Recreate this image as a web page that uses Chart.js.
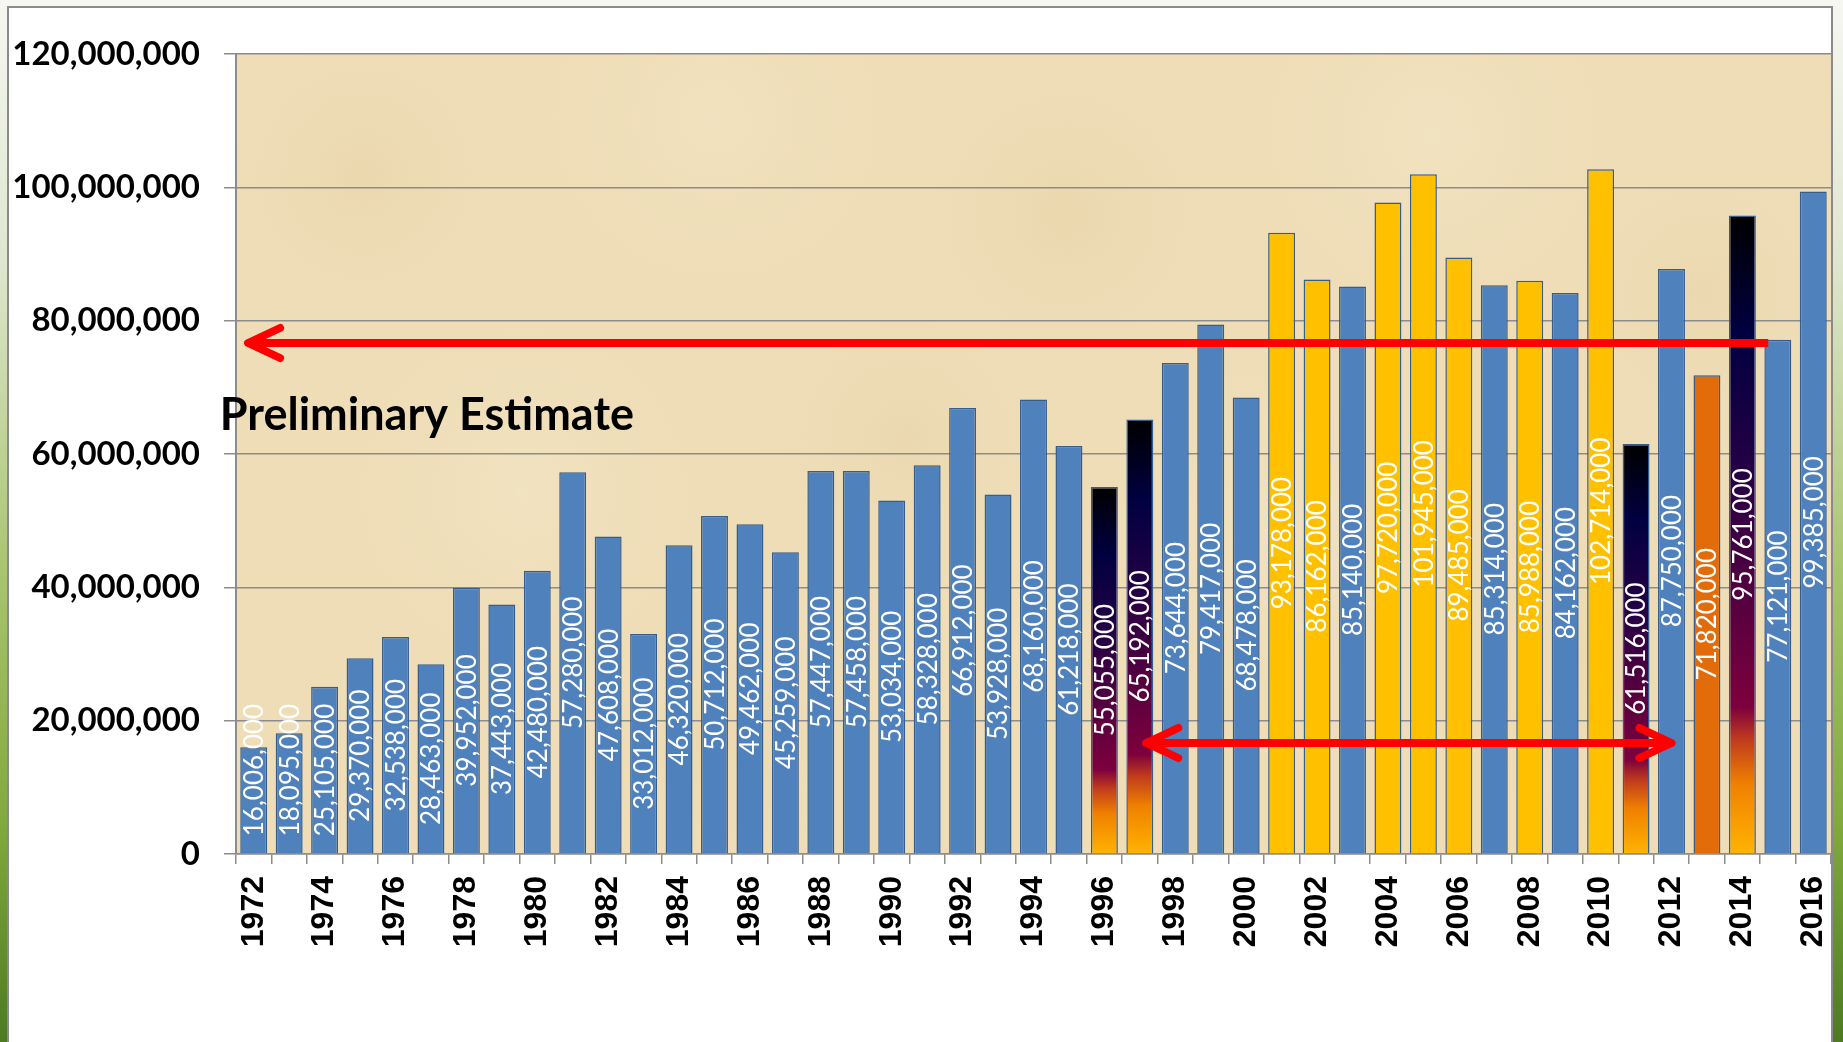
<!DOCTYPE html>
<html>
<head>
<meta charset="utf-8">
<script src="https://cdn.jsdelivr.net/npm/chart.js@4.4.1/dist/chart.umd.min.js"></script>
<style>
  html, body { margin: 0; padding: 0; background: #ffffff; }
  #wrap { width: 1843px; height: 1042px; position: relative; }
</style>
</head>
<body>
<div id="wrap"><canvas id="c" width="1843" height="1042"></canvas></div>
<script>
// ---------------- data ----------------
const years = [1972,1973,1974,1975,1976,1977,1978,1979,1980,1981,1982,1983,1984,1985,1986,1987,1988,1989,1990,1991,1992,1993,1994,1995,1996,1997,1998,1999,2000,2001,2002,2003,2004,2005,2006,2007,2008,2009,2010,2011,2012,2013,2014,2015,2016];
const values = [16006000,18095000,25105000,29370000,32538000,28463000,39952000,37443000,42480000,57280000,47608000,33012000,46320000,50712000,49462000,45259000,57447000,57458000,53034000,58328000,66912000,53928000,68160000,61218000,55055000,65192000,73644000,79417000,68478000,93178000,86162000,85140000,97720000,101945000,89485000,85314000,85988000,84162000,102714000,61516000,87750000,71820000,95761000,77121000,99385000];
const yellowYears = [2001,2002,2004,2005,2006,2008,2010];
const gradientYears = [1996,1997,2011,2014];
const orangeYears = [2013];
const yTickValues = [0,20000000,40000000,60000000,80000000,100000000,120000000];
const annotationText = 'Preliminary Estimate';
// arrows: positions in category-index units (x) and data units (y)
const arrowLongX = [-0.16, 42.73];
const arrowLongY = 76650000;
const arrowShortX = [25.18, 40.0];
const arrowShortY = 16650000;
const textAnchorX = -0.9;
const textAnchorY = 63600000;

// ---------------- styles ----------------
const BLUE = '#4F81BD', YELLOW = '#FFC000', ORANGE = '#E36C0A', BORDER = '#385D8A';
const GRID = '#8C8C8C';
const fmt = v => v.toLocaleString('en-US');

function barFill(ctx) {
  const i = ctx.dataIndex;
  const yr = years[i];
  if (yellowYears.includes(yr)) return YELLOW;
  if (orangeYears.includes(yr)) return ORANGE;
  if (gradientYears.includes(yr)) {
    const chart = ctx.chart;
    if (!chart.chartArea || !chart.scales.y) return '#200040';
    const top = chart.scales.y.getPixelForValue(values[i]);
    const base = chart.scales.y.getPixelForValue(0);
    const g = chart.ctx.createLinearGradient(0, top, 0, base);
    g.addColorStop(0, '#000000');
    g.addColorStop(0.18, '#000040');
    g.addColorStop(0.40, '#250045');
    g.addColorStop(0.60, '#550040');
    g.addColorStop(0.77, '#7D003D');
    g.addColorStop(0.82, '#C03A1E');
    g.addColorStop(0.89, '#F08000');
    g.addColorStop(1.0, '#FFB400');
    return g;
  }
  return BLUE;
}

// soft mottling of the parchment background (fixed, hand-placed patches)
const parchmentPatches = [
  [0.08, 0.15, 0.10, 'rgba(230,205,160,0.35)'], [0.30, 0.08, 0.12, 'rgba(245,232,200,0.45)'],
  [0.52, 0.20, 0.11, 'rgba(228,204,158,0.35)'], [0.75, 0.10, 0.12, 'rgba(246,234,204,0.45)'],
  [0.92, 0.30, 0.10, 'rgba(230,206,162,0.35)'], [0.18, 0.55, 0.12, 'rgba(246,234,204,0.45)'],
  [0.42, 0.48, 0.10, 'rgba(228,204,160,0.30)'], [0.65, 0.60, 0.12, 'rgba(246,234,204,0.40)'],
  [0.85, 0.75, 0.11, 'rgba(230,206,162,0.30)'], [0.30, 0.85, 0.10, 'rgba(230,206,162,0.30)']
];

const framePlugin = {
  id: 'frame',
  beforeDraw(chart) {
    const c = chart.ctx;
    const W = chart.width, H = chart.height;
    c.save();
    const bg = c.createLinearGradient(0, 0, 0, H);
    bg.addColorStop(0, '#f6f7f2');
    bg.addColorStop(0.25, '#dfe6cf');
    bg.addColorStop(0.55, '#a9c46e');
    bg.addColorStop(0.8, '#7fa83c');
    bg.addColorStop(1, '#4d7a22');
    c.fillStyle = bg;
    c.fillRect(0, 0, W, H);
    const ca = chart.chartArea;
    c.fillStyle = '#ffffff';
    c.fillRect(8, 7, ca.right - 8 + 1, H);
    c.strokeStyle = '#8a8a8a';
    c.lineWidth = 2;
    c.strokeRect(8, 7, ca.right - 8 + 1, H + 10);
    // plot background
    const pw = ca.right - ca.left, ph = ca.bottom - ca.top;
    c.fillStyle = '#EEDDB7';
    c.fillRect(ca.left, ca.top, pw, ph);
    c.beginPath(); c.rect(ca.left, ca.top, pw, ph); c.clip();
    parchmentPatches.forEach(([fx, fy, fr, col]) => {
      const cx = ca.left + fx * pw, cy = ca.top + fy * ph, r = fr * pw;
      const rg = c.createRadialGradient(cx, cy, 0, cx, cy, r);
      rg.addColorStop(0, col);
      rg.addColorStop(1, 'rgba(238,221,183,0)');
      c.fillStyle = rg;
      c.fillRect(cx - r, cy - r, 2 * r, 2 * r);
    });
    c.restore();
  }
};

const labelPlugin = {
  id: 'barLabels',
  afterDatasetsDraw(chart) {
    const c = chart.ctx;
    const meta = chart.getDatasetMeta(0);
    c.save();
    c.font = '26px Lato';
    c.fillStyle = '#ffffff';
    c.textAlign = 'center';
    c.textBaseline = 'middle';
    meta.data.forEach((el, i) => {
      const txt = fmt(values[i]);
      const w = c.measureText(txt).width;
      let cy = (el.y + el.base) / 2;
      if (cy + w / 2 > el.base - 17) cy = el.base - 17 - w / 2;
      c.save();
      c.translate(el.x + 1, cy);
      c.rotate(-Math.PI / 2);
      c.fillText(txt, 0, 0);
      c.restore();
    });
    c.restore();
  }
};

function drawHead(c, tx, ty, dir) {
  c.beginPath();
  c.moveTo(tx + dir * 32, ty - 15);
  c.lineTo(tx, ty);
  c.lineTo(tx + dir * 32, ty + 15);
  c.stroke();
}

const annotPlugin = {
  id: 'annot',
  afterDatasetsDraw(chart) {
    const c = chart.ctx;
    const xs = chart.scales.x, ys = chart.scales.y;
    c.save();
    c.strokeStyle = '#FF0000';
    c.lineWidth = 8;
    let x1 = xs.getPixelForValue(arrowLongX[0]), x2 = xs.getPixelForValue(arrowLongX[1]);
    let y = ys.getPixelForValue(arrowLongY);
    c.lineCap = 'butt';
    c.beginPath(); c.moveTo(x1 + 4, y); c.lineTo(x2, y); c.stroke();
    c.lineCap = 'round'; c.lineJoin = 'round';
    drawHead(c, x1, y, 1);
    x1 = xs.getPixelForValue(arrowShortX[0]); x2 = xs.getPixelForValue(arrowShortX[1]);
    y = ys.getPixelForValue(arrowShortY);
    c.lineCap = 'butt';
    c.beginPath(); c.moveTo(x1 + 4, y); c.lineTo(x2 - 4, y); c.stroke();
    c.lineCap = 'round';
    drawHead(c, x1, y, 1);
    drawHead(c, x2, y, -1);
    c.fillStyle = '#000000';
    c.font = 'bold 45px Lato';
    c.textAlign = 'left';
    c.textBaseline = 'alphabetic';
    c.fillText(annotationText, xs.getPixelForValue(textAnchorX) - 2, ys.getPixelForValue(textAnchorY));
    c.restore();
  }
};

new Chart(document.getElementById('c'), {
  type: 'bar',
  data: {
    labels: years,
    datasets: [{
      data: values,
      backgroundColor: barFill,
      borderColor: BORDER,
      borderWidth: 1.5,
      barPercentage: 0.76,
      categoryPercentage: 1.0
    }]
  },
  options: {
    responsive: false,
    animation: false,
    events: [],
    layout: { padding: { top: 54, right: 12, left: 0, bottom: 0 } },
    plugins: { legend: { display: false }, tooltip: { enabled: false } },
    scales: {
      x: {
        grid: { display: true, drawOnChartArea: false, drawTicks: true, tickLength: 10, color: GRID, lineWidth: 1.5 },
        border: { display: true, color: GRID, width: 1.5 },
        ticks: {
          autoSkip: false, maxRotation: 90, minRotation: 90, padding: 12,
          color: '#000000',
          font: { family: '"Liberation Sans", Arial, sans-serif', weight: 'bold', size: 32 },
          callback: (v, i) => (i % 2 === 0 ? String(years[i]) : '')
        },
        afterFit(scale) { scale.height = 188; scale.paddingLeft = 0; scale.paddingRight = 0; }
      },
      y: {
        min: 0, max: 120000000,
        afterBuildTicks(scale) { scale.ticks = yTickValues.map(v => ({ value: v })); },
        grid: { color: GRID, lineWidth: 1.5, tickLength: 12, drawTicks: true },
        border: { display: true, color: GRID, width: 2 },
        ticks: {
          padding: 24, color: '#000000',
          font: { family: 'Lato', weight: 'bold', size: 33 },
          callback: v => fmt(v)
        },
        afterFit(scale) { scale.width = 236; }
      }
    }
  },
  plugins: [framePlugin, labelPlugin, annotPlugin]
});
</script>
</body>
</html>
